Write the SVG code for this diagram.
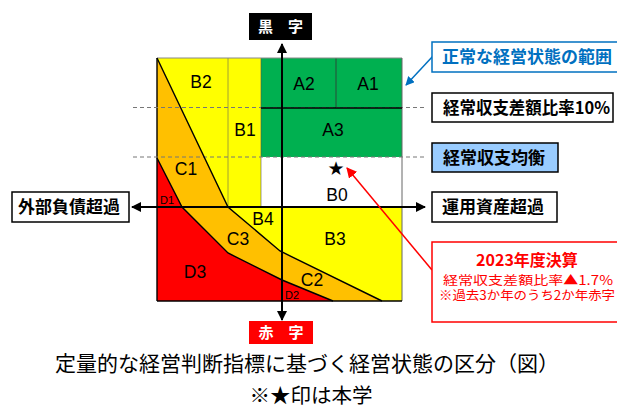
<svg xmlns="http://www.w3.org/2000/svg" width="617" height="408" viewBox="0 0 617 408">
<defs>
<style>
.lbl{font-family:"Liberation Sans",Arial,sans-serif;font-size:17.5px;fill:#000;text-anchor:middle}
.sm{font-family:"Liberation Sans",Arial,sans-serif;font-size:11px;fill:#000;text-anchor:middle}
.jp{font-family:"Noto Sans CJK JP",sans-serif;font-size:17px;font-weight:bold;fill:#000}
.cap{font-family:"Noto Sans CJK JP",sans-serif;font-size:20.5px;fill:#000;text-anchor:middle}
.bnd{fill:none;stroke:#000;stroke-width:1.4}
.dash{stroke:#777;stroke-width:1;stroke-dasharray:4 3}
.axis{stroke:#000;stroke-width:2;fill:none}
</style>
<marker id="ah" viewBox="0 0 10 10" refX="9" refY="5" markerWidth="5" markerHeight="5" orient="auto"><path d="M0,0 L10,5 L0,10 z" fill="#000"/></marker>
<marker id="ahb" viewBox="0 0 10 10" refX="9" refY="5" markerWidth="6" markerHeight="6" orient="auto"><path d="M0,0 L10,5 L0,10 z" fill="#0070C0"/></marker>
<marker id="ahr" viewBox="0 0 10 10" refX="9" refY="5" markerWidth="7" markerHeight="7" orient="auto"><path d="M0,0 L10,5 L0,10 z" fill="#FF0000"/></marker>
</defs>
<rect width="617" height="408" fill="#fff"/>

<g id="regions">
<rect x="157" y="58" width="245" height="243" fill="#FFFF00"/>
<rect x="261" y="58" width="141" height="99" fill="#00B050"/>
<rect x="261" y="157" width="141" height="50" fill="#fff"/>
<polygon points="157,58 228,207 280,251 382,301 157,301" fill="#FFC000"/>
<polygon points="157,158 182,207 228,253 282,280 333,301 157,301" fill="#FF0000"/>
<line x1="228" y1="58" x2="228" y2="207" stroke="#8a8a40" stroke-width="0.8"/>
<line x1="336" y1="58" x2="336" y2="108" stroke="#333" stroke-width="0.8"/>
<line x1="261" y1="58" x2="261" y2="207" stroke="#555" stroke-width="0.6"/>
<line x1="157" y1="58" x2="402" y2="58" stroke="#888" stroke-width="1"/>
<line x1="402" y1="58" x2="402" y2="301" stroke="#666" stroke-width="1"/>
<line x1="157" y1="58" x2="157" y2="301" stroke="#000" stroke-width="1.4"/>
<line x1="157" y1="301" x2="402" y2="301" stroke="#000" stroke-width="1.4"/>
</g>

<g id="connectors">
<line class="dash" x1="133" y1="107.5" x2="427" y2="107.5"/>
<line class="dash" x1="133" y1="157" x2="427" y2="157"/>
<line x1="261" y1="108" x2="402" y2="108" stroke="#000" stroke-width="1.6"/>
<polyline class="bnd" points="157,58 228,207 280,251 382,301"/>
<polyline class="bnd" points="157,158 182,207 228,253 282,280 333,301"/>
<line class="axis" x1="282" y1="320" x2="282" y2="44" marker-end="url(#ah)"/>
<line class="axis" x1="282" y1="207" x2="282" y2="320" marker-end="url(#ah)"/>
<line class="axis" x1="157" y1="207" x2="425" y2="207" marker-end="url(#ah)"/>
<line class="axis" x1="157" y1="207" x2="132" y2="207" marker-end="url(#ah)"/>
<line x1="433" y1="56" x2="406" y2="85" stroke="#0070C0" stroke-width="1.5" marker-end="url(#ahb)"/>
<line x1="432" y1="270" x2="347" y2="168" stroke="#FF0000" stroke-width="1.5" marker-end="url(#ahr)"/>
</g>

<g id="zone-labels">
<text class="lbl" x="201" y="88">B2</text>
<text class="lbl" x="304" y="90">A2</text>
<text class="lbl" x="368" y="90">A1</text>
<text class="lbl" x="245" y="136">B1</text>
<text class="lbl" x="333" y="136">A3</text>
<text class="lbl" x="186" y="175">C1</text>
<text class="sm" x="167" y="204">D1</text>
<text class="lbl" x="337" y="201">B0</text>
<text class="lbl" x="263" y="225">B4</text>
<text class="lbl" x="238" y="245">C3</text>
<text class="lbl" x="335" y="245">B3</text>
<text class="lbl" x="195" y="278">D3</text>
<text class="lbl" x="312" y="286">C2</text>
<text class="sm" x="292" y="299">D2</text>
<text x="336" y="175" font-family="'DejaVu Sans',sans-serif" font-size="19" text-anchor="middle">★</text>
</g>

<g id="kuro">
<rect x="249" y="13" width="63" height="27" fill="#000"/>
<text x="280.5" y="32" font-family="'Noto Sans CJK JP',sans-serif" font-size="15" font-weight="bold" fill="#fff" text-anchor="middle" xml:space="preserve">黒　字</text>
</g>
<g id="aka">
<rect x="249" y="321" width="64" height="23" fill="#FF0000"/>
<text x="281" y="338" font-family="'Noto Sans CJK JP',sans-serif" font-size="15" font-weight="bold" fill="#fff" text-anchor="middle" xml:space="preserve">赤　字</text>
</g>

<g id="normal-range">
<rect x="432" y="42" width="190" height="30" fill="#fff" stroke="#0070C0" stroke-width="1.5"/>
<text class="jp" x="442" y="63" style="fill:#0070C0">正常な経営状態の範囲</text>
</g>
<g id="ratio10">
<rect x="432" y="93" width="181" height="29" fill="#fff" stroke="#000" stroke-width="1.5"/>
<text class="jp" x="443" y="114" textLength="167" lengthAdjust="spacingAndGlyphs">経常収支差額比率10%</text>
</g>
<g id="balance">
<rect x="432" y="143" width="126" height="29" fill="#99CCFF" stroke="#000" stroke-width="1.5"/>
<text class="jp" x="443" y="164">経常収支均衡</text>
</g>
<g id="asset-excess">
<rect x="432" y="192" width="125" height="30" fill="#fff" stroke="#000" stroke-width="1.5"/>
<text class="jp" x="442" y="213">運用資産超過</text>
</g>
<g id="debt-excess">
<rect x="12" y="192" width="117" height="30" fill="#fff" stroke="#000" stroke-width="1.5"/>
<text class="jp" x="18" y="213">外部負債超過</text>
</g>
<g id="result2023">
<rect x="432" y="242" width="190" height="80" fill="#fff" stroke="#FF0000" stroke-width="1.5"/>
<text x="527" y="266" font-family="'Noto Sans CJK JP',sans-serif" font-size="16" font-weight="bold" fill="#FF0000" text-anchor="middle">2023年度決算</text>
<text x="443" y="285" font-family="'Noto Sans CJK JP',sans-serif" font-size="12.5" fill="#FF0000" textLength="170" lengthAdjust="spacingAndGlyphs">経常収支差額比率▲1.7%</text>
<text x="439" y="300" font-family="'Noto Sans CJK JP',sans-serif" font-size="12.5" fill="#FF0000" textLength="176" lengthAdjust="spacingAndGlyphs">※過去3か年のうち2か年赤字</text>
</g>

<g id="caption">
<text class="cap" x="307" y="371" style="font-size:21px">定量的な経営判断指標に基づく経営状態の区分（図）</text>
<text class="cap" x="311" y="403">※★印は本学</text>
</g>
</svg>
